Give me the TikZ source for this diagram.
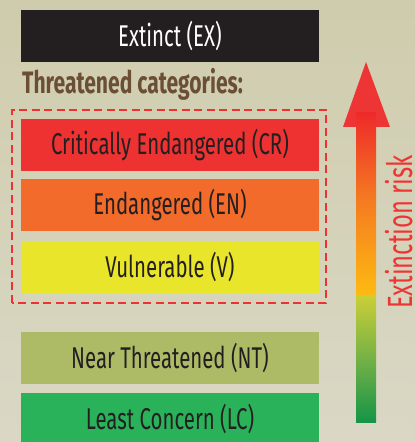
\documentclass[tikz,border=0pt]{standalone}
\usepackage{fontspec}
\setmainfont{Fira Sans}[FakeStretch=0.68]
\definecolor{bgtop}{HTML}{CFCCAD}
\definecolor{bgbot}{HTML}{DAD8C5}
\definecolor{exc}{HTML}{231F20}
\definecolor{crc}{HTML}{EE3232}
\definecolor{enc}{HTML}{F26B2B}
\definecolor{vuc}{HTML}{E8E52B}
\definecolor{ntc}{HTML}{AEBB66}
\definecolor{lcc}{HTML}{2AB25A}
\definecolor{brownc}{HTML}{6B4F35}
\definecolor{riskred}{HTML}{EE3535}
\definecolor{ga}{HTML}{139447}
\definecolor{gb}{HTML}{72B047}
\definecolor{gc}{HTML}{CBCF37}
\definecolor{ya}{HTML}{FDBA12}
\definecolor{oa}{HTML}{F47B21}
\definecolor{ra}{HTML}{EE2A2A}
\pgfdeclareverticalshading{riskshade}{100bp}{color(0bp)=(ga); color(25bp)=(ga); color(35bp)=(gb); color(45.6bp)=(gc); color(45.7bp)=(ya); color(61bp)=(oa); color(75bp)=(ra); color(100bp)=(ra)}
\tikzset{
  catbox/.style={minimum width=298pt, minimum height=52pt, inner sep=0pt, text=exc,
    font=\fontsize{30}{34}\selectfont},
}
\begin{document}
\begin{tikzpicture}[x=1pt,y=1pt]
\useasboundingbox (0,0) rectangle (415,442);
\shade[top color=bgtop, bottom color=bgbot] (0,0) rectangle (415,442);
\node[catbox, fill=exc, text=white] (ex) at (170,406) {Extinct (EX)};
\node[anchor=base west, inner sep=0pt, text=brownc, font=\bfseries\fontsize{31}{34}\selectfont] (thr) at (22,348) {Threatened categories:};
\node[catbox, fill=crc] (cr) at (170,297) {Critically Endangered (CR)};
\node[catbox, fill=enc] (en) at (170,237) {Endangered (EN)};
\node[catbox, fill=vuc] (vu) at (170,175) {Vulnerable (V)};
\node[catbox, fill=ntc] (nt) at (170,84) {Near Threatened (NT)};
\fill[lcc] (21,-5) rectangle (319,49);
\node[catbox, minimum height=0pt] (lc) at (170,23) {Least Concern (LC)};
\draw[crc, line width=2pt, dash pattern=on 8pt off 4.5pt] (12,139) rectangle (326,332);
\coordinate (tip) at (366,380);
\fill[riskred] (tip) -- (390,315) -- (343,315) -- cycle;
\shade[shading=riskshade] (356,19) rectangle (376,329);
\node[rotate=90, anchor=base, inner sep=0pt, text=riskred, font=\fontsize{35}{36}\selectfont] (risk) at (412,210) {Extinction risk};
\end{tikzpicture}
\end{document}
